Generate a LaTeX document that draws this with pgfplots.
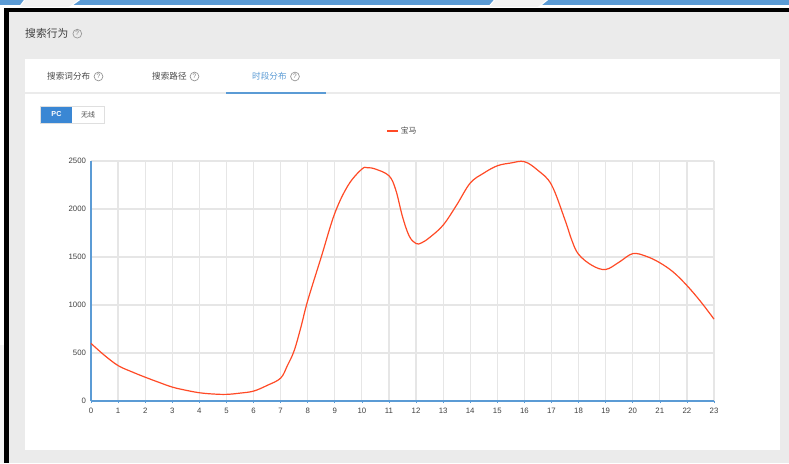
\documentclass[border=0pt]{standalone}
\usepackage{fontspec}
\usepackage{pgfplots}
\pgfplotsset{compat=1.18}
\setmainfont{Liberation Sans}
\newfontfamily\cjk{Noto Sans CJK SC}
\definecolor{bandblue}{HTML}{5B9BD5}
\definecolor{panel}{HTML}{EBEBEB}
\definecolor{btn}{HTML}{3A87D4}
\definecolor{gridc}{HTML}{E6E6E6}
\definecolor{curve}{HTML}{FF4A26}
\definecolor{txt}{HTML}{4A4A4A}
\definecolor{notch}{HTML}{F2F2F2}
\newcommand{\fs}[1]{\fontsize{#1}{#1}\selectfont}
\newcommand{\helpicon}[2]{%
  \draw[draw=gray!80,line width=0.7pt] (#1,463-#2) circle (4.4);
  \node[text=gray,inner sep=0pt] at (#1,463-#2) {\fs{6.5}?};}
\pgfplotstableread{
h v
0 600
0.5 475
1 369
1.5 305
2 248
2.5 195
3 145
3.5 112
4 86
4.5 73
5 69
5.5 82
6 103
6.5 162
7 238
7.25 369
7.5 524
7.75 770
8 1045
8.5 1500
9 1955
9.5 2250
10 2416
10.2 2430
10.5 2416
11 2346
11.25 2200
11.5 1920
11.75 1717
12 1640
12.2 1647
12.5 1703
13 1832
13.5 2042
14 2270
14.5 2374
15 2450
15.5 2479
16 2493
16.5 2402
17 2252
17.5 1885
17.75 1675
18 1528
18.5 1412
19 1370
19.5 1447
20 1535
20.5 1507
21 1440
21.5 1342
22 1203
22.5 1038
23 853
}\hourdata
\begin{document}
\begin{tikzpicture}[x=1pt,y=1pt]
\useasboundingbox (0,0) rectangle (789,463);
% page furniture
\fill[white] (0,0) rectangle (789,463);
\fill[bandblue] (0,458) rectangle (789,463);
\filldraw[fill=notch,draw=white,line width=1pt] (19,455.5) -- (25,463.5) -- (80,463.5) -- (69,455.5) -- cycle;
\filldraw[fill=notch,draw=white,line width=1pt] (488,455.5) -- (495,463.5) -- (548,463.5) -- (538,455.5) -- cycle;
\fill[black] (4,0) rectangle (789,454.5);
\fill[panel] (9.3,0) rectangle (789,450.5);
\fill[white!96!black] (0,0) rectangle (4,118);
\fill[white] (25,13) rectangle (779.5,403.5);
\fill[panel] (25,368.8) rectangle (779.5,370.8);
\fill[bandblue] (226,368.8) rectangle (326,370.8);
% header texts
\node[anchor=west,inner sep=0pt,text=black!75] at (25,430) {\cjk\fs{10.8}搜索行为};
\helpicon{77.3}{33.7}
\node[anchor=west,inner sep=0pt,text=txt] at (47,386.5) {\cjk\fs{8.6}搜索词分布};
\helpicon{98.5}{76.5}
\node[anchor=west,inner sep=0pt,text=txt] at (152,386.5) {\cjk\fs{8.6}搜索路径};
\helpicon{194.5}{76.5}
\node[anchor=west,inner sep=0pt,text=bandblue] at (252,386.5) {\cjk\fs{8.6}时段分布};
\helpicon{295}{76.5}
% PC / wireless buttons
\draw[draw=gray!25,line width=0.8pt,fill=white] (40.5,339.5) rectangle (104.5,356.5);
\fill[btn] (41,340) rectangle (72,356);
\node[inner sep=0pt,text=white] at (56.5,348.5) {\fs{7.2}\bfseries PC};
\node[inner sep=0pt,text=txt] at (88,348.5) {\cjk\fs{7}无线};
\begin{axis}[
  at={(91pt,62pt)},anchor=origin,
  scale only axis,width=623pt,height=240pt,
  xmin=0,xmax=23,ymin=0,ymax=2500,
  xtick={0,1,...,23},ytick={0,500,...,2500},
  axis x line*=bottom,axis y line*=left,
  axis line style={draw=bandblue,line width=1.2pt,-},
  grid=major,major grid style={draw=gridc,line width=1.2pt},
  tick align=outside,major tick length=2pt,
  x tick style={draw=bandblue,line width=0.6pt},
  y tick style={draw=none},
  tick label style={font=\fs{7.8},text=black!75},
  /pgf/number format/assume math mode=true,
  /pgf/number format/1000 sep={},
  xticklabel style={yshift=-2pt},
  yticklabel style={xshift=0.5pt},
  clip=false,
  legend style={draw=none,fill=none,at={(0.5,1.125)},anchor=center,
    font=\cjk\fs{7.8},text=txt,inner sep=0pt,
    /tikz/every even column/.style={column sep=4pt}},
  legend cell align=left,
  legend image code/.code={\draw[#1] (0pt,0pt) -- (11pt,0pt);},
]
\addplot[curve,line width=1.2pt,smooth,tension=0.6,no marks] table[x=h,y=v] {\hourdata};
\addlegendentry{宝马}
\end{axis}
\end{tikzpicture}
\end{document}
